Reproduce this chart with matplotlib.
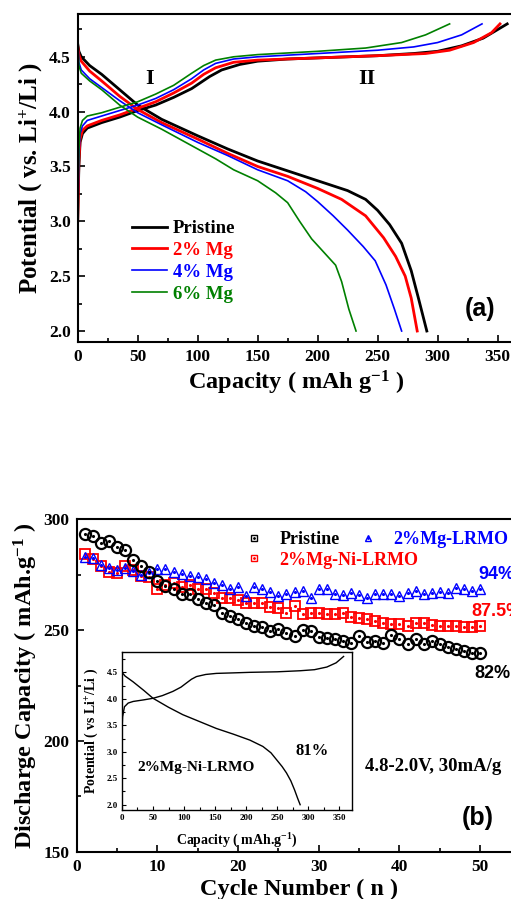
import matplotlib
matplotlib.use("Agg")
import matplotlib.pyplot as plt
from matplotlib.lines import Line2D
from matplotlib.ticker import MultipleLocator

plt.rcParams['font.family'] = ['Liberation Serif', 'DejaVu Serif']
plt.rcParams['font.weight'] = 'bold'
plt.rcParams['mathtext.fontset'] = 'custom'
plt.rcParams['mathtext.rm'] = 'Liberation Serif:bold'
plt.rcParams['mathtext.bf'] = 'Liberation Serif:bold'
plt.rcParams['mathtext.default'] = 'bf'

# ---- panel (a): charge / discharge profiles ----
blk_chg_x = [0, 1, 2, 4, 8, 20, 35, 50, 65, 80, 95, 110, 120, 135, 150, 175, 200, 250, 280, 300, 320, 338, 358]
blk_chg_y = [3.0, 3.5, 3.72, 3.8, 3.85, 3.9, 3.95, 4.01, 4.06, 4.13, 4.21, 4.32, 4.38, 4.43, 4.46, 4.48, 4.49, 4.51, 4.53, 4.55, 4.6, 4.67, 4.8]
red_chg_x = [0, 1, 2, 4, 8, 20, 35, 50, 65, 80, 95, 105, 115, 130, 150, 200, 250, 290, 310, 330, 345, 352]
red_chg_y = [3.0, 3.55, 3.75, 3.83, 3.87, 3.92, 3.97, 4.03, 4.09, 4.17, 4.26, 4.34, 4.4, 4.45, 4.47, 4.49, 4.51, 4.53, 4.56, 4.63, 4.72, 4.8]
blu_chg_x = [0, 1, 2, 4, 8, 20, 35, 50, 65, 80, 95, 105, 115, 130, 150, 200, 250, 280, 300, 320, 337]
blu_chg_y = [2.97, 3.6, 3.8, 3.87, 3.92, 3.96, 4.01, 4.06, 4.12, 4.2, 4.3, 4.38, 4.44, 4.48, 4.5, 4.53, 4.56, 4.59, 4.63, 4.7, 4.8]
grn_chg_x = [0, 1, 2, 4, 8, 20, 35, 50, 65, 80, 95, 105, 115, 130, 150, 200, 240, 270, 290, 310]
grn_chg_y = [3.1, 3.65, 3.85, 3.92, 3.96, 3.99, 4.04, 4.09, 4.16, 4.24, 4.35, 4.42, 4.47, 4.5, 4.52, 4.55, 4.58, 4.63, 4.7, 4.8]

blk_dis_x = [0, 1, 3, 10, 20, 35, 50, 70, 100, 125, 150, 175, 200, 225, 240, 250, 260, 270, 278, 284, 291]
blk_dis_y = [4.62, 4.55, 4.5, 4.42, 4.34, 4.2, 4.06, 3.93, 3.78, 3.66, 3.55, 3.46, 3.37, 3.28, 3.2, 3.1, 2.97, 2.8, 2.55, 2.3, 2.0]
red_dis_x = [0, 1, 3, 10, 20, 35, 50, 70, 100, 125, 150, 175, 200, 220, 240, 255, 265, 273, 278, 283]
red_dis_y = [4.6, 4.52, 4.46, 4.37, 4.28, 4.14, 4.02, 3.9, 3.75, 3.62, 3.5, 3.41, 3.3, 3.2, 3.05, 2.85, 2.68, 2.5, 2.3, 2.0]
blu_dis_x = [0, 1, 3, 10, 20, 35, 50, 70, 100, 125, 150, 175, 190, 200, 213, 225, 238, 248, 257, 264, 270]
blu_dis_y = [4.66, 4.45, 4.38, 4.3, 4.22, 4.1, 3.99, 3.88, 3.72, 3.6, 3.47, 3.37, 3.27, 3.18, 3.05, 2.92, 2.77, 2.64, 2.42, 2.2, 2.0]
grn_dis_x = [0, 1, 3, 10, 20, 35, 50, 70, 100, 115, 130, 150, 165, 175, 185, 195, 205, 215, 220, 226, 232]
grn_dis_y = [4.65, 4.42, 4.35, 4.28, 4.2, 4.06, 3.95, 3.84, 3.66, 3.57, 3.47, 3.37, 3.26, 3.17, 3.0, 2.84, 2.72, 2.6, 2.45, 2.2, 2.0]

labels_a = ['Pristine', '2% Mg', '4% Mg', '6% Mg']
colors_a = ['black', 'red', 'blue', '#008000']

# ---- panel (b): cycling ----
cycles = list(range(1, 51))
pristine = [293.2, 292.5, 289.5, 290.2, 287.7, 286.2, 281.6, 278.9, 276.4, 272.3,
            269.9, 268.4, 266.3, 266.2, 263.9, 262.4, 261.3, 257.9, 256.4, 254.9,
            253.4, 251.9, 251.6, 249.8, 250.4, 248.8, 247.3, 250.0, 249.5, 247.0,
            246.6, 245.8, 245.2, 244.0, 247.3, 244.8, 245.2, 244.3, 247.8, 246.0,
            243.7, 246.1, 243.7, 245.2, 243.7, 242.2, 241.5, 240.7, 239.8, 239.5]
mg_ni = [284.2, 281.9, 278.9, 276.4, 275.9, 278.9, 277.1, 274.4, 273.8, 268.4,
         270.4, 271.1, 269.6, 270.4, 268.4, 268.4, 266.6, 264.3, 264.3, 263.6,
         262.4, 262.4, 262.1, 260.6, 259.8, 257.9, 260.9, 257.3, 257.9, 257.6,
         257.3, 257.3, 257.9, 255.8, 255.3, 254.9, 254.3, 253.4, 252.8, 252.8,
         251.9, 253.4, 253.1, 252.3, 251.9, 251.9, 251.9, 251.6, 251.6, 251.9]
mg = [283.2, 282.7, 279.4, 278.2, 277.1, 277.9, 276.7, 274.9, 275.9, 277.4,
      277.4, 276.4, 275.3, 274.4, 273.8, 272.9, 271.4, 270.4, 268.4, 269.6,
      265.4, 269.3, 268.4, 267.4, 265.4, 266.3, 267.4, 267.8, 264.3, 268.7,
      268.4, 266.3, 265.8, 266.6, 265.8, 264.3, 266.3, 266.3, 266.3, 265.4,
      266.9, 267.8, 266.3, 266.9, 267.4, 266.9, 268.9, 268.4, 267.8, 268.4]

# inset: 2%Mg-Ni-LRMO profile
ins_chg_x = [0, 1, 4, 10, 18, 35, 50, 65, 82, 95, 104, 112, 120, 135, 152, 180, 206, 250, 287, 310, 330, 345, 357]
ins_chg_y = [3.4, 3.66, 3.85, 3.92, 3.95, 3.98, 4.01, 4.06, 4.14, 4.22, 4.3, 4.37, 4.42, 4.46, 4.48, 4.49, 4.5, 4.51, 4.53, 4.55, 4.6, 4.68, 4.8]
ins_dis_x = [0, 5, 18, 35, 50, 75, 98, 125, 152, 180, 206, 227, 240, 249, 258, 265, 272, 278, 283, 287]
ins_dis_y = [4.5, 4.43, 4.32, 4.16, 4.01, 3.84, 3.7, 3.57, 3.44, 3.33, 3.22, 3.1, 2.98, 2.85, 2.72, 2.6, 2.45, 2.28, 2.12, 2.0]

fig = plt.figure(figsize=(5.11, 8.99), dpi=100)
sans = ['Liberation Sans', 'DejaVu Sans']


def style_axes(ax, size=12.5, lw=1.5, major=5, minor=3, pad=4):
    for s in ax.spines.values():
        s.set_linewidth(lw)
    ax.tick_params(which='both', direction='in', width=lw * 0.8, labelsize=size, pad=pad)
    ax.tick_params(which='major', length=major)
    ax.tick_params(which='minor', length=minor)
    for lab in ax.get_xticklabels() + ax.get_yticklabels():
        lab.set_fontweight('bold')


# (a)
ax1 = fig.add_axes([0.152, 0.6196, 0.857, 0.3648])
chg = [(blk_chg_x, blk_chg_y), (red_chg_x, red_chg_y), (blu_chg_x, blu_chg_y), (grn_chg_x, grn_chg_y)]
dis = [(blk_dis_x, blk_dis_y), (red_dis_x, red_dis_y), (blu_dis_x, blu_dis_y), (grn_dis_x, grn_dis_y)]
widths = [2.0, 2.0, 1.2, 1.2]
for (cx, cy), (dx, dy), c, w, lab in zip(chg, dis, colors_a, widths, labels_a):
    ax1.plot(cx, cy, color=c, lw=w, label=lab)
    ax1.plot(dx, dy, color=c, lw=w)
ax1.set_xlim(0, 365)
ax1.set_ylim(1.9, 4.89)
ax1.xaxis.set_major_locator(MultipleLocator(50))
ax1.xaxis.set_minor_locator(MultipleLocator(25))
ax1.yaxis.set_major_locator(MultipleLocator(0.5))
ax1.yaxis.set_minor_locator(MultipleLocator(0.25))
style_axes(ax1, pad=5)
ax1.set_xlabel('Capacity ( mAh g$^{-1}$ )', fontsize=17.5, fontweight='bold', labelpad=3)
ax1.set_ylabel('Potential ( vs. Li$^{+}$/Li )', fontsize=18, fontweight='bold', labelpad=3)
leg = ax1.legend(loc='upper left', bbox_to_anchor=(0.123, 0.372), frameon=False,
                 handlelength=1.9, handletextpad=0.3, labelspacing=0.25,
                 borderpad=0, borderaxespad=0, prop={'weight': 'bold', 'size': 13.5})
for t, c in zip(leg.get_texts(), colors_a):
    t.set_color(c)
ax1.text(60, 4.3, 'I', fontsize=16, fontweight='bold', ha='center', va='center')
ax1.text(241, 4.3, 'II', fontsize=16, fontweight='bold', ha='center', va='center')
ax1.text(335, 2.2, '(a)', fontsize=18, fontweight='bold', ha='center', va='center', family=sans)

# (b)
ax2 = fig.add_axes([0.150, 0.0526, 0.8687, 0.3697])
ax2.plot(cycles, mg_ni, ls='none', marker='s', ms=6.5, mfc='none', mec='red', mew=1.3)
ax2.plot(cycles, mg_ni, ls='none', marker='.', ms=2.5, color='red')
ax2.plot(cycles, mg, ls='none', marker='^', ms=6.5, mfc='none', mec='blue', mew=1.0)
ax2.plot(cycles, mg, ls='none', marker='.', ms=2.5, color='blue')
ax2.plot(cycles, pristine, ls='none', marker='o', ms=8, mfc='none', mec='black', mew=1.6)
ax2.plot(cycles, pristine, ls='none', marker='.', ms=2.5, color='black')
ax2.set_xlim(0, 55)
ax2.set_ylim(150, 300)
ax2.xaxis.set_major_locator(MultipleLocator(10))
ax2.xaxis.set_minor_locator(MultipleLocator(5))
ax2.yaxis.set_major_locator(MultipleLocator(50))
ax2.yaxis.set_minor_locator(MultipleLocator(25))
style_axes(ax2, pad=5)
ax2.set_xlabel('Cycle Number ( n )', fontsize=17.5, fontweight='bold', labelpad=3)
ax2.set_ylabel('Discharge Capacity ( mAh.g$^{-1}$ )', fontsize=17.5, fontweight='bold', labelpad=3)


def handle(marker, c):
    return (Line2D([], [], ls='none', marker=marker, ms=5, mfc='none', mec=c, mew=1.0),
            Line2D([], [], ls='none', marker='.', ms=2, color=c))


legp = dict(frameon=False, handlelength=1.0, handletextpad=0.9, labelspacing=0.2,
            borderpad=0, borderaxespad=0, prop={'weight': 'bold', 'size': 13})
leg1 = ax2.legend([handle('s', 'black'), handle('s', 'red')], ['Pristine', '2%Mg-Ni-LRMO'],
                  loc='upper left', bbox_to_anchor=(0.38, 0.965), **legp)
for t, c in zip(leg1.get_texts(), ['black', 'red']):
    t.set_color(c)
ax2.add_artist(leg1)
leg2 = ax2.legend([handle('^', 'blue')], ['2%Mg-LRMO'],
                  loc='upper left', bbox_to_anchor=(0.635, 0.965), **legp)
leg2.get_texts()[0].set_color('blue')

ax2.text(49.8, 274.9, '94%', color='blue', fontsize=13, fontweight='bold', va='center', family=sans)
ax2.text(48.9, 258.3, '87.5%', color='red', fontsize=13, fontweight='bold', va='center', family=sans)
ax2.text(49.3, 230.6, '82%', color='black', fontsize=13, fontweight='bold', va='center', family=sans)
ax2.text(35.7, 188.3, '4.8-2.0V, 30mA/g', fontsize=13.5, fontweight='bold', va='center')
ax2.text(49.7, 165, '(b)', fontsize=18, fontweight='bold', ha='center', va='center', family=sans)

# inset
ax3 = fig.add_axes([0.2387, 0.0990, 0.4507, 0.1761])
ax3.plot(ins_chg_x, ins_chg_y, color='black', lw=1.0)
ax3.plot(ins_dis_x, ins_dis_y, color='black', lw=1.0)
ax3.set_xlim(0, 371)
ax3.set_ylim(1.9, 4.89)
ax3.xaxis.set_major_locator(MultipleLocator(50))
ax3.xaxis.set_minor_locator(MultipleLocator(25))
ax3.yaxis.set_major_locator(MultipleLocator(0.5))
ax3.yaxis.set_minor_locator(MultipleLocator(0.25))
style_axes(ax3, size=6.5, lw=1.0, major=3, minor=2, pad=3)
ax3.set_xlabel('Capacity ( mAh.g$^{-1}$)', fontsize=10, fontweight='bold', labelpad=7)
ax3.set_ylabel('Potential ( vs Li$^{+}$/Li )', fontsize=10, fontweight='bold', labelpad=5)
ax3.text(306, 3.02, '81%', fontsize=12, fontweight='bold', ha='center', va='center')
ax3.text(120, 2.71, '2%Mg-Ni-LRMO', fontsize=11, fontweight='bold', ha='center', va='center')

fig.savefig('out.png', dpi=100)
